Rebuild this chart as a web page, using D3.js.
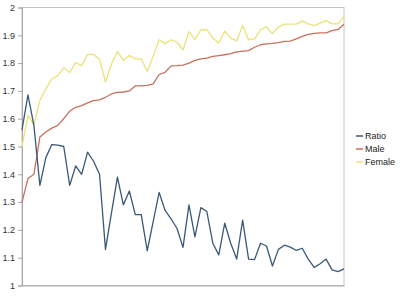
<!DOCTYPE html>
<html>
<head>
<meta charset="utf-8">
<script src="https://cdn.jsdelivr.net/npm/d3@7"></script>
<style>
html,body{margin:0;padding:0;background:#fff;}
svg{display:block;font-family:"Liberation Sans",Arial,sans-serif;}
</style>
</head>
<body>
<svg id="chart" width="400" height="297"></svg>
<script>
const seriesNames = ["Ratio", "Male", "Female"];
const seriesColors = ["#3b5878", "#c8705c", "#ece27a"];
const yTicks = [1, 1.1, 1.2, 1.3, 1.4, 1.5, 1.6, 1.7, 1.8, 1.9, 2];
const ratio = [1.56,1.686,1.575,1.36,1.46,1.507,1.505,1.50,1.36,1.43,1.40,1.48,1.447,1.40,1.13,1.26,1.39,1.29,1.34,1.255,1.255,1.125,1.23,1.335,1.27,1.24,1.205,1.137,1.29,1.175,1.28,1.266,1.152,1.11,1.224,1.152,1.095,1.235,1.095,1.093,1.152,1.142,1.07,1.13,1.145,1.138,1.126,1.134,1.095,1.065,1.078,1.095,1.056,1.05,1.06];
const male = [1.30,1.385,1.40,1.534,1.552,1.566,1.576,1.60,1.627,1.641,1.647,1.657,1.665,1.668,1.677,1.689,1.695,1.696,1.70,1.718,1.718,1.72,1.725,1.759,1.767,1.79,1.791,1.793,1.80,1.81,1.815,1.818,1.824,1.827,1.83,1.834,1.84,1.843,1.845,1.857,1.866,1.869,1.871,1.874,1.878,1.879,1.887,1.896,1.903,1.907,1.909,1.909,1.917,1.921,1.94];
const female = [1.50,1.612,1.578,1.666,1.707,1.743,1.755,1.783,1.766,1.802,1.791,1.831,1.831,1.814,1.732,1.797,1.842,1.81,1.827,1.815,1.815,1.771,1.825,1.884,1.87,1.884,1.875,1.848,1.913,1.885,1.92,1.92,1.89,1.872,1.915,1.89,1.88,1.935,1.884,1.887,1.92,1.93,1.906,1.93,1.94,1.94,1.94,1.951,1.941,1.935,1.944,1.953,1.941,1.941,1.968];

const allSeries = [ratio, male, female];
const svg = d3.select("#chart");
const mLeft = 22, mRight = 344, mTop = 7.5, mBottom = 285.5;

const x = d3.scaleLinear().domain([0, ratio.length - 1]).range([mLeft, mRight]);
const y = d3.scaleLinear().domain([1, 2]).range([mBottom, mTop]);

// frame
svg.append("rect")
  .attr("x", mLeft).attr("y", mTop)
  .attr("width", mRight - mLeft).attr("height", mBottom - mTop)
  .attr("fill", "none").attr("stroke", "#c4c4c4").attr("stroke-width", 1);

// y axis
const yAxis = d3.axisLeft(y).tickValues(yTicks).tickSize(4).tickPadding(3)
  .tickFormat(d => String(+d.toFixed(1)));
const gy = svg.append("g").attr("transform", `translate(${mLeft},0)`).call(yAxis);
gy.select(".domain").attr("stroke", "#a8a8a8");
gy.selectAll(".tick line").attr("stroke", "#a8a8a8");
gy.selectAll(".tick text").attr("fill", "#333").attr("font-size", 9)
  .attr("font-family", "Liberation Sans, Arial, sans-serif");

// x axis line
svg.append("g").attr("transform", `translate(0,${mBottom})`)
  .call(d3.axisBottom(x).tickValues([]).tickSizeOuter(0))
  .select(".domain").attr("stroke", "#a8a8a8");

const line = d3.line().x((d, i) => x(i)).y(d => y(d));

// draw in order: female, male, ratio (ratio on top)
[2, 1, 0].forEach(si => {
  svg.append("path")
    .datum(allSeries[si])
    .attr("fill", "none")
    .attr("stroke", seriesColors[si])
    .attr("stroke-width", 1.3)
    .attr("stroke-linejoin", "round")
    .attr("d", line);
});

// legend
const lg = svg.append("g");
seriesNames.forEach((name, i) => {
  const yy = 136 + i * 13;
  lg.append("line").attr("x1", 356).attr("x2", 363).attr("y1", yy).attr("y2", yy)
    .attr("stroke", seriesColors[i]).attr("stroke-width", 1.5);
  lg.append("text").attr("x", 365).attr("y", yy).attr("dy", "0.35em")
    .attr("font-size", 9).attr("fill", "#222").text(name);
});
</script>
</body>
</html>
